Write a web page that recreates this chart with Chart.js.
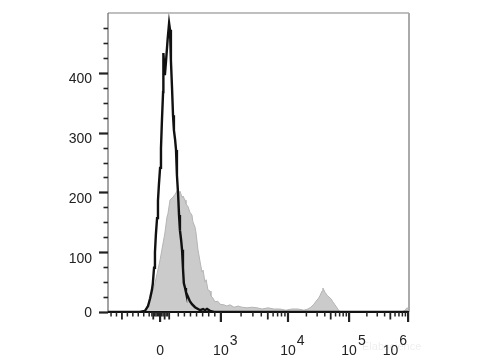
<!DOCTYPE html>
<html>
<head>
<meta charset="utf-8">
<script src="https://cdn.jsdelivr.net/npm/chart.js@4.4.1/dist/chart.umd.min.js"></script>
<style>
    html, body { margin: 0; padding: 0; background: #fff; }
    #wrap { width: 480px; height: 360px; position: relative; }
</style>
</head>
<body>
<div id="wrap"><canvas id="histChart"></canvas></div>
<script>
// ── Data (x in display channels 0–1000, y in events) ──
const blackX = [0, 106, 123, 133, 140, 146, 149, 153, 156, 159,
    163, 166, 169, 173, 176, 179, 183, 184, 189, 193,
    198, 203, 206, 209, 213, 216, 219, 223, 226, 229,
    233, 236, 239, 243, 246, 249, 252, 256, 259, 266,
    272, 279, 289, 299, 306, 316, 322, 329, 339, 352, 1000];
const blackY = [0, 0, 2, 10, 23, 37, 48, 74, 100, 129,
    157, 186, 212, 241, 274, 318, 368, 433, 396, 421,
    455, 483, 472, 421, 371, 329, 304, 288, 271, 229,
    196, 162, 137, 120, 104, 74, 48, 40, 33, 25,
    18, 13, 8, 5, 3, 5, 3, 5, 2, 0, 0];

const grayX = [100, 123, 140, 146, 156, 163, 173, 179, 189, 196,
    199, 206, 213, 216, 223, 229, 233, 236, 239, 246,
    249, 256, 259, 266, 272, 279, 282, 289, 292, 299,
    306, 312, 316, 322, 326, 332, 339, 342, 349, 355,
    365, 372, 385, 395, 405, 419, 432, 445, 462, 478,
    495, 512, 532, 551, 571, 591, 611, 631, 651, 664,
    674, 684, 691, 698, 704, 711, 714, 721, 728, 734,
    741, 747, 754, 761, 767, 777, 977, 987, 993, 1000];
const grayY = [0, 3, 20, 32, 48, 64, 87, 104, 132, 159,
    164, 187, 191, 192, 197, 202, 206, 199, 202, 192,
    194, 187, 181, 176, 167, 162, 151, 142, 134, 104,
    84, 67, 70, 50, 54, 37, 35, 27, 23, 17,
    18, 13, 12, 10, 12, 8, 10, 8, 7, 8,
    7, 5, 7, 5, 5, 3, 5, 5, 3, 5,
    8, 13, 18, 22, 27, 35, 40, 33, 28, 25,
    22, 17, 12, 7, 2, 0, 0, 3, 7, 5];

// ── Axis definition ──
const yMax = 500;
const yLabels = [0, 100, 200, 300, 400];
const yMajorStep = 100;
const yMinorStep = 25;

const zeroChannel = 173;          // channel of value 0
const negLimitChannel = -8;       // channel of value -1000
const decadeChannels = [375, 598, 801, 997]; // 10^3 .. 10^6

const xLabelValues = [0, 1e3, 1e4, 1e5, 1e6];
const xLabelBase = ['0', '10', '10', '10', '10'];
const xLabelSup = ['', '3', '4', '5', '6'];

// biexponential-like display transform: value -> channel
function toChannel(v) {
    if (v >= 1000) {
        const e = Math.log10(v);
        const i = Math.min(Math.floor(e) - 3, 2);
        return decadeChannels[i] + (e - (i + 3)) * (decadeChannels[i + 1] - decadeChannels[i]);
    }
    if (v >= 0) return zeroChannel + v / 1000 * (decadeChannels[0] - zeroChannel);
    return zeroChannel + v / 1000 * (zeroChannel - negLimitChannel);
}

// tick marks (values, not positions)
const majorTicks = [0, 1e3, 1e4, 1e5, 1e6];
const mediumTicks = [-700, -125, 75, 150, 5e3, 5e4, 5e5];
const minorTicks = [];
for (let v = -900; v <= -200; v += 100) if (v !== -700) minorTicks.push(v);
for (let v = -150; v <= 125; v += 25) if (v !== 0 && v !== -125 && v !== 75) minorTicks.push(v);
for (let v = 300; v <= 900; v += 100) minorTicks.push(v);
for (let n = 3; n <= 5; n++) {
    for (let k = 2; k <= 9; k++) if (k !== 5) minorTicks.push(k * Math.pow(10, n));
}

const FONT = '"Liberation Sans", Arial, Helvetica, sans-serif';

// ── Frame, tick marks and labels ──
const axisPlugin = {
    id: 'flowAxes',
    afterDraw(chart) {
        const ctx = chart.ctx;
        const xs = chart.scales.x;
        const ys = chart.scales.y;
        const a = chart.chartArea;
        ctx.save();

        // frame
        ctx.strokeStyle = '#aaaaaa';
        ctx.lineWidth = 1.5;
        ctx.beginPath();
        ctx.moveTo(a.left, a.top); ctx.lineTo(a.right, a.top);
        ctx.stroke();
        ctx.lineWidth = 2;
        ctx.beginPath();
        ctx.moveTo(a.right, a.top); ctx.lineTo(a.right, a.bottom);
        ctx.stroke();
        ctx.strokeStyle = '#666';
        ctx.lineWidth = 1.2;
        ctx.beginPath();
        ctx.moveTo(a.left, a.top); ctx.lineTo(a.left, a.bottom);
        ctx.stroke();
        ctx.strokeStyle = '#111';
        ctx.lineWidth = 2;
        ctx.beginPath();
        ctx.moveTo(a.left, a.bottom); ctx.lineTo(a.right, a.bottom);
        ctx.stroke();

        // y ticks
        ctx.strokeStyle = '#222';
        for (let v = 0; v < yMax; v += yMinorStep) {
            const y = Math.round(ys.getPixelForValue(v)) + 0.5;
            const major = v % yMajorStep === 0;
            ctx.lineWidth = major ? 2.2 : 1.6;
            ctx.beginPath();
            ctx.moveTo(a.left - (major ? 9 : 4.5), y);
            ctx.lineTo(a.left, y);
            ctx.stroke();
        }

        // y labels hang just below their tick
        ctx.fillStyle = '#222';
        ctx.font = '14px ' + FONT;
        ctx.textAlign = 'right';
        ctx.textBaseline = 'alphabetic';
        yLabels.forEach(v => {
            const y = ys.getPixelForValue(v);
            ctx.fillText(String(v), a.left - 16, v === 0 ? y + 5 : y + 10.5);
        });

        // x ticks
        const drawX = (list, len, w) => {
            ctx.lineWidth = w;
            list.forEach(v => {
                const x = xs.getPixelForValue(toChannel(v));
                ctx.beginPath();
                ctx.moveTo(x, a.bottom);
                ctx.lineTo(x, a.bottom + len);
                ctx.stroke();
            });
        };
        drawX(minorTicks, 4.5, 1.5);
        drawX(mediumTicks, 7.5, 1.8);
        drawX(majorTicks, 10, 2.2);

        // x labels with superscript exponents
        xLabelValues.forEach((v, i) => {
            const x = xs.getPixelForValue(toChannel(v));
            const base = xLabelBase[i];
            const sup = xLabelSup[i];
            const bw = ctx.measureText(base).width;
            const sw = sup ? ctx.measureText(sup).width : 0;
            let left = x - bw / 2;
            if (left + bw + 1 + sw > a.right) left = x - 1 - (bw + 1 + sw);
            ctx.textAlign = 'left';
            ctx.fillText(base, left, 355);
            if (sup) ctx.fillText(sup, left + bw + 1, 345);
        });

        // faint watermark
        ctx.fillStyle = 'rgba(0,0,0,0.07)';
        ctx.font = '11px ' + FONT;
        ctx.fillText('Elabscience', 362, 350);
        ctx.restore();
    }
};

function initHistogram() {
    const canvas = document.getElementById('histChart');
    const ctx = canvas.getContext('2d');

    const blackData = blackX.map((x, i) => ({ x: x, y: blackY[i] }));
    const grayData = grayX.map((x, i) => ({ x: x, y: grayY[i] }));

    new Chart(ctx, {
        type: 'line',
        data: {
            datasets: [{
                label: 'Stained',
                data: blackData,
                borderColor: '#111111',
                borderWidth: 2.4,
                fill: false,
                tension: 0,
                pointRadius: 0
            }, {
                label: 'Control',
                data: grayData,
                borderColor: '#b4b4b4',
                backgroundColor: '#cbcbcb',
                borderWidth: 1,
                fill: 'origin',
                tension: 0,
                pointRadius: 0
            }]
        },
        options: {
            responsive: true,
            maintainAspectRatio: false,
            animation: false,
            layout: { padding: { top: 13, right: 71, left: 0, bottom: 0 } },
            plugins: {
                legend: { display: false },
                tooltip: { enabled: false }
            },
            scales: {
                x: {
                    type: 'linear',
                    min: 0,
                    max: 1000,
                    grid: { display: false, drawTicks: false },
                    border: { display: false },
                    ticks: { display: false },
                    afterFit: function (scale) { scale.height = 48; }
                },
                y: {
                    min: 0,
                    max: yMax,
                    grid: { display: false, drawTicks: false },
                    border: { display: false },
                    ticks: { display: false },
                    afterFit: function (scale) { scale.width = 108; }
                }
            }
        },
        plugins: [axisPlugin]
    });
}

initHistogram();
</script>
</body>
</html>
